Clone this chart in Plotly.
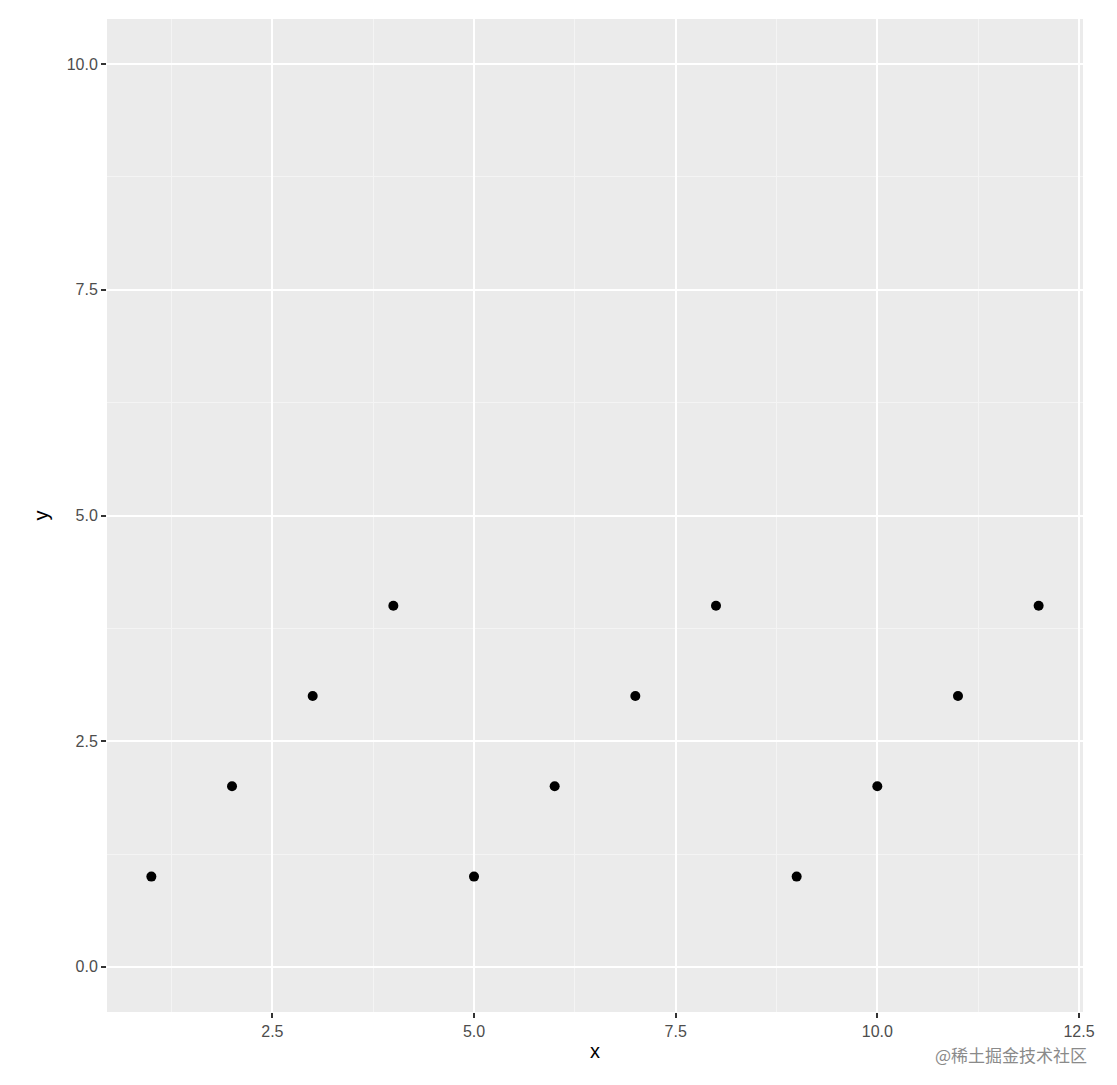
import plotly.graph_objects as go

x_vals = [1, 2, 3, 4, 5, 6, 7, 8, 9, 10, 11, 12]
y_vals = [1, 2, 3, 4, 1, 2, 3, 4, 1, 2, 3, 4]
x_ticks = [2.5, 5.0, 7.5, 10.0, 12.5]
y_ticks = [0.0, 2.5, 5.0, 7.5, 10.0]
x_minor = [1.25, 3.75, 6.25, 8.75, 11.25]
y_minor = [1.25, 3.75, 6.25, 8.75]

FONT = "Liberation Sans, Arial"

fig = go.Figure()
fig.add_trace(go.Scatter(x=x_vals, y=y_vals, mode="markers",
                         marker=dict(color="black", size=10), showlegend=False))

axis_common = dict(
    showgrid=True, gridcolor="white", gridwidth=2,
    zeroline=False, showline=False,
    ticks="outside", ticklen=5, tickwidth=1.5, tickcolor="#333333",
    tickfont=dict(family=FONT, size=16, color="#4D4D4D"),
)

fig.update_xaxes(**axis_common, range=[0.45, 12.55], tickvals=x_ticks,
                 ticktext=["%.1f" % v for v in x_ticks],
                 minor=dict(showgrid=True, gridcolor="#F4F4F4", gridwidth=1, ticks="", tickvals=x_minor),
                 title=dict(text="x", font=dict(family=FONT, size=20, color="black"), standoff=4))
fig.update_yaxes(**axis_common, range=[-0.5, 10.5], tickvals=y_ticks,
                 ticktext=["%.1f" % v for v in y_ticks],
                 minor=dict(showgrid=True, gridcolor="#F4F4F4", gridwidth=1, ticks="", tickvals=y_minor),
                 title=dict(text="y", font=dict(family=FONT, size=20, color="black"), standoff=12))

fig.add_annotation(text="@稀土掘金技术社区", xref="paper", yref="paper",
                   x=1.0, y=0, xanchor="right", yanchor="top", yshift=-28, xshift=6,
                   showarrow=False,
                   font=dict(family="Noto Sans CJK SC", size=17, color="#8A8A8A"))

fig.update_layout(
    width=1101, height=1069,
    margin=dict(l=99, r=26, t=11, b=65),
    plot_bgcolor="#EBEBEB", paper_bgcolor="white",
)

fig.write_html("out.html")
